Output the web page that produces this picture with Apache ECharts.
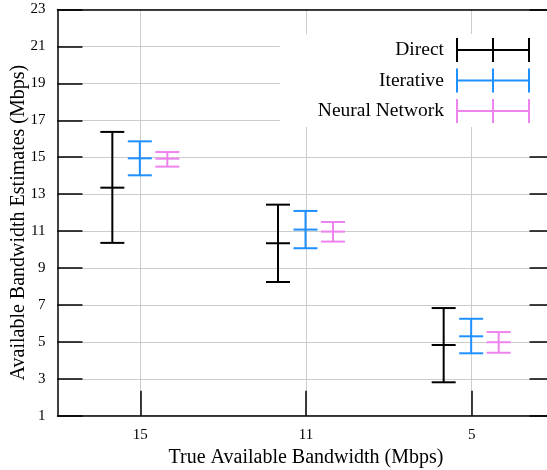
<!DOCTYPE html>
<html>
<head>
<meta charset="utf-8">
<script src="https://cdn.jsdelivr.net/npm/echarts@6/dist/echarts.min.js"></script>
<style>html,body{margin:0;padding:0;background:#fff;}#c{width:547px;height:470px;}</style>
</head>
<body>
<div id="c"></div>
<script>
const categories = ['15', '11', '5'];
const yTicks = [1, 3, 5, 7, 9, 11, 13, 15, 17, 19, 21, 23];
const seriesNames = ['Direct', 'Iterative', 'Neural Network'];
const directMean = [13.35, 10.34, 4.83];
const directLow = [10.36, 8.24, 2.81];
const directHigh = [16.37, 12.43, 6.83];
const iterativeMean = [14.94, 11.08, 5.30];
const iterativeLow = [14.02, 10.07, 4.38];
const iterativeHigh = [15.86, 12.09, 6.25];
const nnMean = [14.92, 10.97, 4.98];
const nnLow = [14.49, 10.43, 4.41];
const nnHigh = [15.28, 11.49, 5.53];

const colors = ['#000000', '#1e90ff', '#ee82ee'];
const offsets = [-28, -0.5, 27];
const FONT = 'Liberation Serif';

function build(low, mean, high) {
  return categories.map((c, i) => [i, low[i], mean[i], high[i]]);
}
const datasets = [
  build(directLow, directMean, directHigh),
  build(iterativeLow, iterativeMean, iterativeHigh),
  build(nnLow, nnMean, nnHigh)
];

function makeRender(offset) {
  return function (params, api) {
    const cat = api.value(0);
    const pLo = api.coord([cat, api.value(1)]);
    const pMid = api.coord([cat, api.value(2)]);
    const pHi = api.coord([cat, api.value(3)]);
    const x = pLo[0] + offset;
    const hw = 12;
    const style = { stroke: api.visual('color'), lineWidth: 2, fill: null };
    return {
      type: 'group',
      children: [
        { type: 'line', shape: { x1: x, y1: pHi[1], x2: x, y2: pLo[1] }, style: style },
        { type: 'line', shape: { x1: x - hw, y1: pHi[1], x2: x + hw, y2: pHi[1] }, style: style },
        { type: 'line', shape: { x1: x - hw, y1: pMid[1], x2: x + hw, y2: pMid[1] }, style: style },
        { type: 'line', shape: { x1: x - hw, y1: pLo[1], x2: x + hw, y2: pLo[1] }, style: style }
      ]
    };
  };
}

const iconPath = 'path://M0,0h2v24h-2zM36,0h2v24h-2zM72,0h2v24h-2zM0,11h74v2h-74z';

const chart = echarts.init(document.getElementById('c'), null, { renderer: 'canvas' });
chart.setOption({
  animation: false,
  backgroundColor: '#ffffff',
  textStyle: { fontFamily: FONT },
  grid: { left: 57.5, top: 9.5, width: 497, height: 406.2, containLabel: false, outerBoundsMode: 'none' },
  legend: {
    data: seriesNames.map((n, i) => ({ name: n, icon: iconPath })),
    right: 0,
    top: 34,
    orient: 'vertical',
    align: 'right',
    itemWidth: 74,
    itemHeight: 24,
    itemGap: 6.5,
    padding: [4, 17, 4, 38],
    backgroundColor: '#ffffff',
    textStyle: { fontFamily: FONT, fontSize: 19.5, color: '#000', padding: [0, 7, 0, 0] },
    selectedMode: false
  },
  xAxis: [{
    type: 'category',
    data: categories,
    position: 'bottom',
    boundaryGap: true,
    name: 'True Available Bandwidth (Mbps)',
    nameLocation: 'middle',
    nameGap: 32,
    nameMoveOverlap: false,
    nameTextStyle: { fontFamily: FONT, fontSize: 20, color: '#000' },
    axisLine: { show: true, lineStyle: { color: '#000', width: 1.5 } },
    axisTick: { show: true, inside: true, length: 25, alignWithLabel: true, lineStyle: { color: '#000', width: 1.5 } },
    axisLabel: { fontFamily: FONT, fontSize: 15, color: '#000', margin: 12 },
    splitLine: { show: true, alignWithLabel: true, lineStyle: { color: '#cccccc', width: 1 } }
  }, {
    type: 'category',
    data: categories,
    position: 'top',
    boundaryGap: true,
    axisLine: { show: true, lineStyle: { color: '#000', width: 1.5 } },
    axisTick: { show: false },
    axisLabel: { show: false },
    splitLine: { show: false }
  }],
  yAxis: [{
    type: 'value',
    min: 1,
    max: 23,
    interval: 2,
    position: 'left',
    name: 'Available Bandwidth Estimates (Mbps)',
    nameLocation: 'middle',
    nameGap: 29,
    nameMoveOverlap: false,
    nameTextStyle: { fontFamily: FONT, fontSize: 20, color: '#000', padding: [0, 20, 0, 0] },
    axisLine: { show: true, lineStyle: { color: '#000', width: 1.5 } },
    axisTick: { show: true, inside: true, length: 25, lineStyle: { color: '#000', width: 1.5 } },
    axisLabel: { fontFamily: FONT, fontSize: 15, color: '#000', margin: 12 },
    splitLine: { show: true, lineStyle: { color: '#cccccc', width: 1 } }
  }, {
    type: 'value',
    min: 1,
    max: 23,
    interval: 2,
    position: 'right',
    axisLine: { show: true, lineStyle: { color: '#000', width: 1.5 } },
    axisTick: { show: true, inside: true, length: 25, lineStyle: { color: '#000', width: 1.5 } },
    axisLabel: { show: false },
    splitLine: { show: false }
  }],
  series: seriesNames.map((n, i) => ({
    name: n,
    type: 'custom',
    xAxisIndex: 0,
    yAxisIndex: 0,
    itemStyle: { color: colors[i] },
    renderItem: makeRender(offsets[i]),
    encode: { x: 0, y: [1, 2, 3] },
    data: datasets[i],
    z: 3
  }))
});
</script>
</body>
</html>
